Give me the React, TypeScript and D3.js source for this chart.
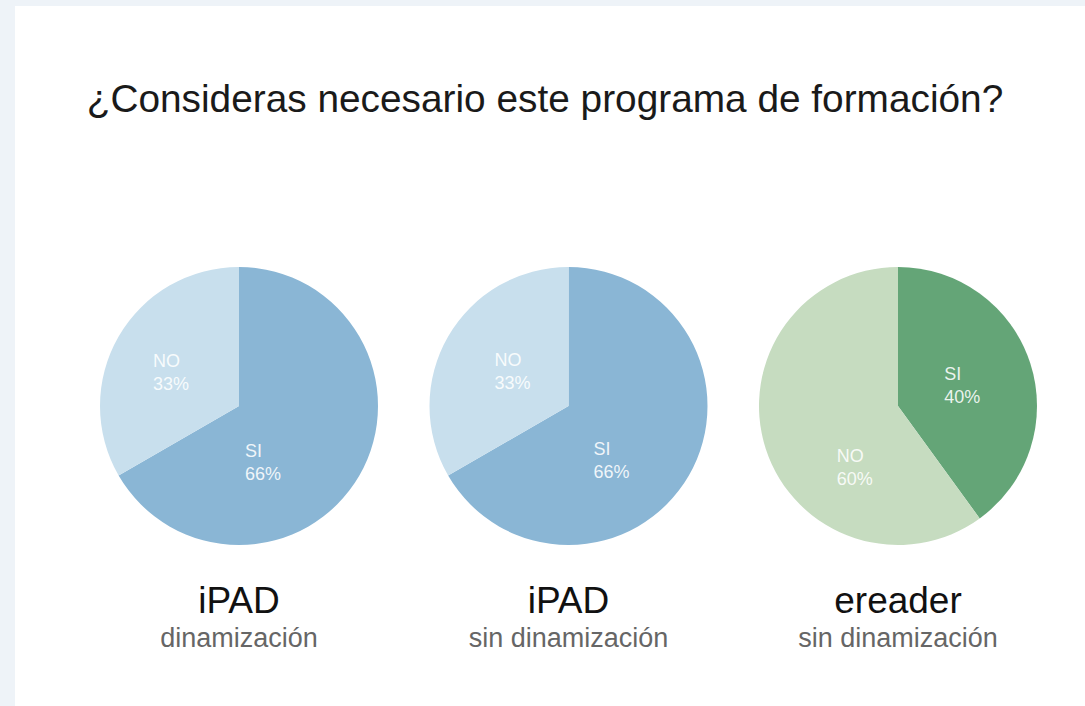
import { useRef, useEffect } from "react";
import { select, pie, arc, PieArcDatum } from "d3";

const W = 1085;
const H = 706;

// data
const answers = ["SI", "NO"];
const ipadDinamizacion = [66, 33];
const ipadSinDinamizacion = [66, 33];
const ereaderSinDinamizacion = [40, 60];
const devices = ["iPAD", "iPAD", "ereader"];
const groups = ["dinamización", "sin dinamización", "sin dinamización"];

const blues = ["#8ab6d5", "#c8dfed"];
const greens = ["#64a577", "#c6dcc0"];

// label nudges from the slice centroid (layout only), [SI, NO] per pie
const labelNudge = [
  [[-41, 18], [-3, 3]],
  [[-22, 16], [9, 2]],
  [[-7, 2], [28, 38]],
];

const charts = [
  { values: ipadDinamizacion, colors: blues },
  { values: ipadSinDinamizacion, colors: blues },
  { values: ereaderSinDinamizacion, colors: greens },
];

const R = 139;
const CY = 406;
const CX0 = 239;
const STEP = 329.5;
const FONT = "'Liberation Sans', Arial, Helvetica, sans-serif";

type Slice = { key: string; value: number };

function App() {
  const svgRef = useRef<SVGSVGElement>(null);

  useEffect(() => {
    document.body.style.margin = "0";
    const svg = select(svgRef.current);

    const layout = pie<Slice>().sort(null).value(d => d.value);
    const shape = arc<PieArcDatum<Slice>>().innerRadius(0).outerRadius(R);
    const labelArc = arc<PieArcDatum<Slice>>().innerRadius(75).outerRadius(75);

    const g = svg.select(".pies")
      .selectAll<SVGGElement, typeof charts[0]>(".pie")
      .data(charts)
      .join("g")
      .attr("class", "pie")
      .attr("transform", (_, i) => `translate(${CX0 + i * STEP}, ${CY})`);

    g.each(function (c, i) {
      const slices = layout(answers.map((key, j) => ({ key, value: c.values[j] })));
      const sel = select(this);

      sel.selectAll("path")
        .data(slices)
        .join("path")
        .attr("d", shape)
        .attr("fill", (_, j) => c.colors[j]);

      const lbl = sel.selectAll<SVGGElement, PieArcDatum<Slice>>(".lbl")
        .data(slices)
        .join("g")
        .attr("class", "lbl")
        .attr("transform", (d, j) => {
          const [x, y] = labelArc.centroid(d);
          const [nx, ny] = labelNudge[i][j];
          return `translate(${x + nx}, ${y + ny})`;
        });
      lbl.selectAll("*").remove();
      const t = lbl.append("text")
        .style("font-family", FONT)
        .style("font-size", "18px")
        .style("fill", "rgba(255,255,255,0.88)");
      t.append("tspan").attr("x", 0).attr("y", -5).text(d => d.data.key);
      t.append("tspan").attr("x", 0).attr("y", 18).text(d => `${d.data.value}%`);
      t.attr("transform", function () {
        const w = (this as SVGTextElement).getBBox().width;
        return `translate(${-w / 2}, 0)`;
      });
    });

    // captions
    svg.select(".captions")
      .selectAll(".device")
      .data(devices)
      .join("text")
      .attr("class", "device")
      .attr("x", (_, i) => CX0 + i * STEP)
      .attr("y", 613)
      .attr("text-anchor", "middle")
      .style("font-family", FONT)
      .style("font-size", "37px")
      .style("fill", "#111")
      .text(d => d);

    svg.select(".captions")
      .selectAll(".group")
      .data(groups)
      .join("text")
      .attr("class", "group")
      .attr("x", (_, i) => CX0 + i * STEP)
      .attr("y", 647)
      .attr("text-anchor", "middle")
      .style("font-family", FONT)
      .style("font-size", "27px")
      .style("fill", "#666")
      .text(d => d);
  }, []);

  return (
    <svg ref={svgRef} width={W} height={H} style={{ display: "block" }}>
      <rect width={W} height={H} fill="#eef3f8" />
      <rect x={15} y={6} width={W - 15} height={H - 6} fill="#fff" />
      <text
        x={545}
        y={112}
        textAnchor="middle"
        style={{ fontFamily: FONT, fontSize: "38.8px", fill: "#1a1a1a" }}
      >
        ¿Consideras necesario este programa de formación?
      </text>
      <g className="pies" />
      <g className="captions" />
    </svg>
  );
}

export default App;
